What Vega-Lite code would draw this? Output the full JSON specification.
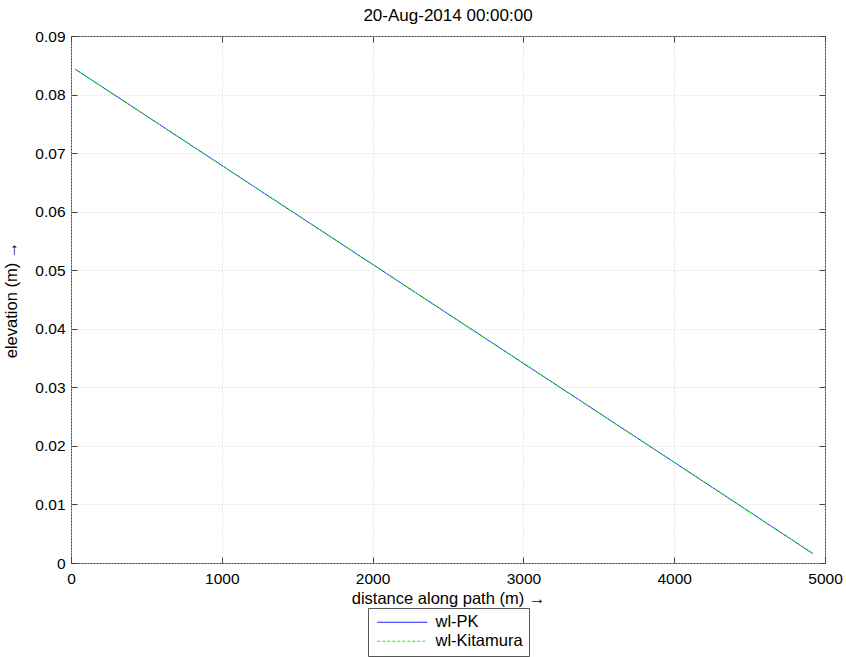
{
  "$schema": "https://vega.github.io/schema/vega-lite/v6.json",
  "width": 754,
  "height": 527,
  "autosize": {"type": "none"},
  "padding": {"left": 71, "top": 36, "right": 21, "bottom": 94},
  "background": "white",
  "title": {"text": "20-Aug-2014 00:00:00", "font": "Liberation Sans", "fontSize": 17, "fontWeight": "normal", "color": "#000000", "offset": 4},
  "config": {
    "view": {"stroke": "#444444", "strokeWidth": 1},
    "axis": {
      "labelFont": "Liberation Sans", "labelFontSize": 15.5, "labelColor": "#000000",
      "titleFont": "Liberation Sans", "titleFontSize": 16.5, "titleFontWeight": "normal", "titleColor": "#000000",
      "tickSize": -6, "tickColor": "#444444", "domain": false,
      "gridColor": "#d4d4d4", "gridDash": [1, 2], "labelFlush": false
    }
  },
  "data": {
    "values": [
      {"distance": 30, "elevation": 0.0843, "series": "wl-PK"},
      {"distance": 1000, "elevation": 0.0679, "series": "wl-PK"},
      {"distance": 2000, "elevation": 0.0510, "series": "wl-PK"},
      {"distance": 3000, "elevation": 0.0341, "series": "wl-PK"},
      {"distance": 4000, "elevation": 0.0172, "series": "wl-PK"},
      {"distance": 4920, "elevation": 0.0016, "series": "wl-PK"},
      {"distance": 30, "elevation": 0.0843, "series": "wl-Kitamura"},
      {"distance": 1000, "elevation": 0.0679, "series": "wl-Kitamura"},
      {"distance": 2000, "elevation": 0.0510, "series": "wl-Kitamura"},
      {"distance": 3000, "elevation": 0.0341, "series": "wl-Kitamura"},
      {"distance": 4000, "elevation": 0.0172, "series": "wl-Kitamura"},
      {"distance": 4920, "elevation": 0.0016, "series": "wl-Kitamura"}
    ]
  },
  "resolve": {"axis": {"x": "independent", "y": "independent"}},
  "layer": [
    {
      "transform": [{"filter": "datum.series === 'wl-PK'"}],
      "mark": {"type": "line", "strokeWidth": 1},
      "encoding": {
        "x": {"field": "distance", "type": "quantitative",
          "scale": {"domain": [0, 5000], "nice": false},
          "axis": {"values": [0, 1000, 2000, 3000, 4000, 5000], "format": "d", "title": "distance along path (m) →", "labelPadding": 14, "titlePadding": 4, "grid": true}},
        "y": {"field": "elevation", "type": "quantitative",
          "scale": {"domain": [0, 0.09], "nice": false, "zero": false},
          "axis": {"values": [0, 0.01, 0.02, 0.03, 0.04, 0.05, 0.06, 0.07, 0.08, 0.09], "format": ".2~f", "title": "elevation (m) →", "labelPadding": 12, "titlePadding": 15, "grid": true}},
        "color": {"field": "series", "type": "nominal",
          "scale": {"domain": ["wl-PK", "wl-Kitamura"], "range": ["#0000ff", "#00ff00"]},
          "legend": {"orient": "none", "legendX": 297, "legendY": 572, "title": null, "direction": "vertical", "symbolType": "M-2,0H18", "symbolSize": 25, "symbolStrokeWidth": 1, "labelFont": "Liberation Sans", "labelFontSize": 16.5, "labelColor": "#000000", "strokeColor": "#555555", "fillColor": "#ffffff", "padding": 6, "rowPadding": 2, "labelOffset": 45}},
        "strokeDash": {"field": "series", "type": "nominal",
          "scale": {"domain": ["wl-PK", "wl-Kitamura"], "range": [[1, 0], [3, 2]]},
          "legend": {"orient": "none", "legendX": 297, "legendY": 572, "title": null, "direction": "vertical", "symbolType": "M-2,0H18", "symbolSize": 25, "symbolStrokeWidth": 1, "labelFont": "Liberation Sans", "labelFontSize": 16.5, "labelColor": "#000000", "strokeColor": "#555555", "fillColor": "#ffffff", "padding": 6, "rowPadding": 2, "labelOffset": 45}}
      }
    },
    {
      "transform": [{"filter": "datum.series === 'wl-Kitamura'"}],
      "mark": {"type": "line", "strokeWidth": 1},
      "encoding": {
        "x": {"field": "distance", "type": "quantitative",
          "axis": {"orient": "top", "values": [0, 1000, 2000, 3000, 4000, 5000], "labels": false, "title": null, "grid": false}},
        "y": {"field": "elevation", "type": "quantitative",
          "axis": {"orient": "right", "values": [0, 0.01, 0.02, 0.03, 0.04, 0.05, 0.06, 0.07, 0.08, 0.09], "labels": false, "title": null, "grid": false}},
        "color": {"field": "series", "type": "nominal"},
        "strokeDash": {"field": "series", "type": "nominal"}
      }
    }
  ]
}
